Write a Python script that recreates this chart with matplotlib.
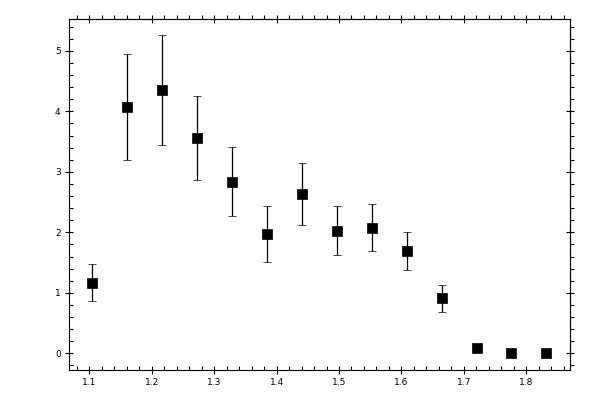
import numpy as np
import matplotlib
matplotlib.use("Agg")
import matplotlib.pyplot as plt
from matplotlib.ticker import MultipleLocator

# valeurs
x = [1.105, 1.160, 1.217, 1.273, 1.329, 1.385, 1.441, 1.497, 1.553, 1.609, 1.665, 1.721, 1.776, 1.832]
y = [1.17, 4.07, 4.35, 3.56, 2.84, 1.97, 2.63, 2.03, 2.08, 1.69, 0.91, 0.08, 0.0, 0.0]
yerr = [0.31, 0.88, 0.91, 0.70, 0.57, 0.46, 0.51, 0.40, 0.39, 0.31, 0.22, 0.0, 0.0, 0.0]

fig = plt.figure(figsize=(6, 4), dpi=100)
ax = fig.add_axes([0.115, 0.075, 0.835, 0.877])

ax.errorbar(x, y, yerr=yerr, fmt='s', color='black', markersize=6.6, markeredgewidth=0.5,
            elinewidth=0.9, capsize=2.8, capthick=0.9)

ax.set_xlim(1.0675, 1.87)
ax.set_ylim(-0.276, 5.524)

for s in ax.spines.values():
    s.set_linewidth(0.8)

ax.xaxis.set_major_locator(MultipleLocator(0.1))
ax.xaxis.set_minor_locator(MultipleLocator(0.02))
ax.yaxis.set_major_locator(MultipleLocator(1))
ax.yaxis.set_minor_locator(MultipleLocator(0.2))
ax.tick_params(which='major', direction='inout', length=6, width=0.8, labelsize=6.5)
ax.tick_params(which='minor', direction='in', length=3, width=0.8)
ax.tick_params(axis='x', pad=3)
ax.tick_params(axis='y', pad=3)

# ticks du haut et de droite
top = ax.secondary_xaxis('top')
top.xaxis.set_major_locator(MultipleLocator(0.1))
top.xaxis.set_minor_locator(MultipleLocator(0.02))
top.tick_params(which='major', direction='inout', length=6, width=0.8, labeltop=False)
top.tick_params(which='minor', direction='out', length=3, width=0.8)
top.spines['top'].set_linewidth(0.8)

right = ax.secondary_yaxis('right')
right.yaxis.set_major_locator(MultipleLocator(1))
right.yaxis.set_minor_locator(MultipleLocator(0.2))
right.tick_params(which='major', direction='inout', length=6, width=0.8, labelright=False)
right.tick_params(which='minor', direction='out', length=3, width=0.8)
right.spines['right'].set_linewidth(0.8)

plt.savefig('out.png', dpi=100)
